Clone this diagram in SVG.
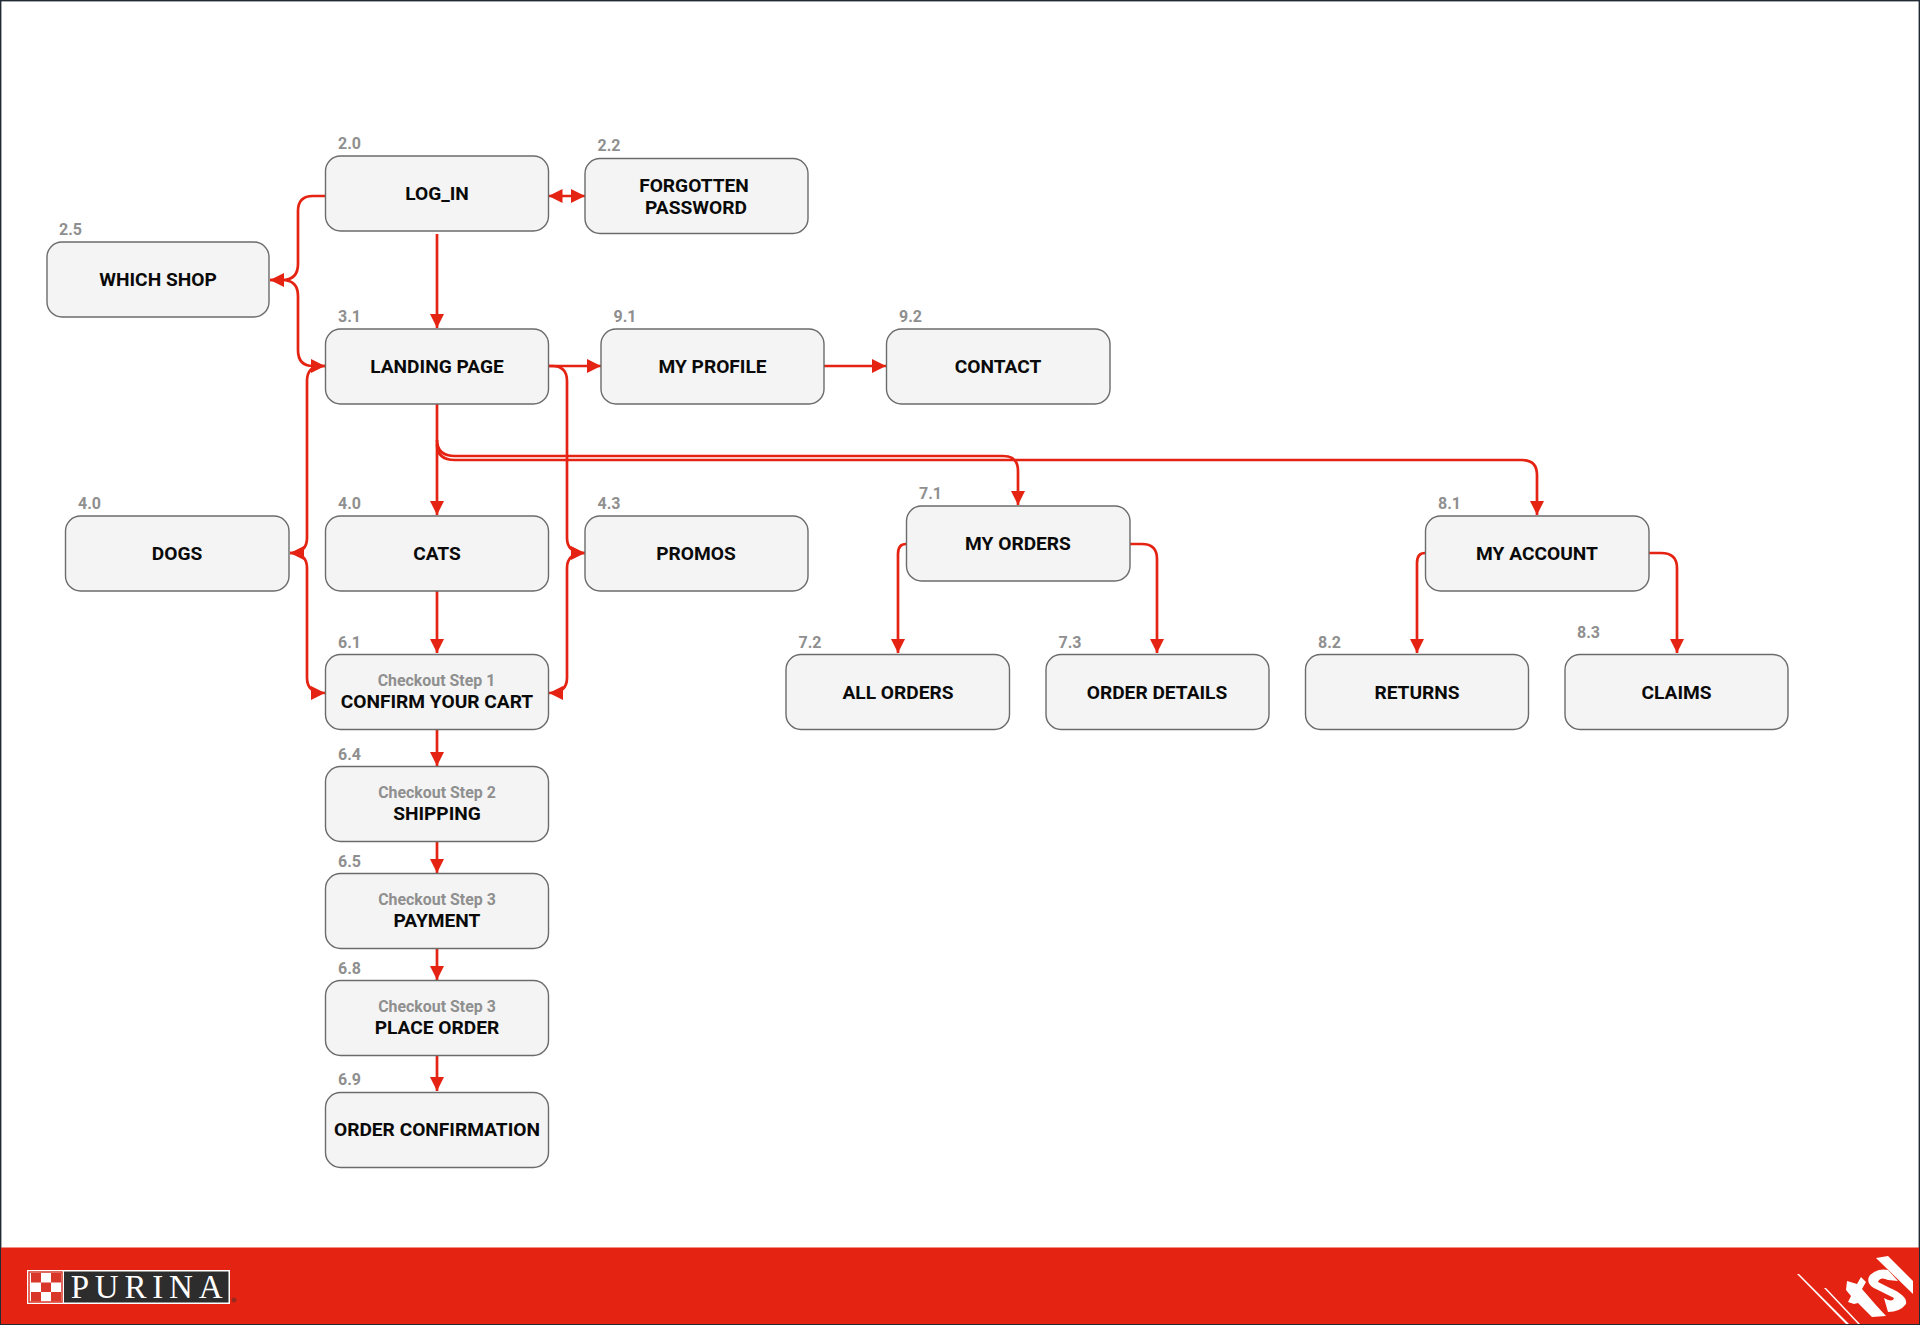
<svg xmlns="http://www.w3.org/2000/svg" width="1920" height="1325" viewBox="0 0 1920 1325">
<style>
.b{fill:#f4f4f4;stroke:#6b6b6b;stroke-width:1.4}
.t{font:700 19.15px Roboto,"Liberation Sans",sans-serif;fill:#0a0a0a;text-anchor:middle}
.s{font:700 15.9px Roboto,"Liberation Sans",sans-serif;fill:#8f8f8f;text-anchor:middle}
.n{font:700 16px Roboto,"Liberation Sans",sans-serif;fill:#8f8f8f}
.c{fill:none;stroke:#e52313;stroke-width:2.7}
.a{fill:#e52313}
</style>
<defs>
<marker id="ah" markerUnits="userSpaceOnUse" markerWidth="15" markerHeight="15" refX="14" refY="7.500" orient="auto-start-reverse"><path d="M0 0.500L14 7.500L0 14.500z" class="a"/></marker>
</defs>
<rect x="0.500" y="0.500" width="1919" height="1324" fill="#fff" stroke="#222b33" stroke-width="1.8"/>
<g id="connectors">
<path class="c" d="M325 196H313Q298 196 298 211V264Q298 280 282 280H270" marker-end="url(#ah)"/>
<path class="c" d="M270 280H282Q298 280 298 296V350Q298 366 313 366H325" marker-end="url(#ah)"/>
<path class="c" d="M548.500 196H585" marker-start="url(#ah)" marker-end="url(#ah)"/>
<path class="c" d="M437 234V328" marker-end="url(#ah)"/>
<path class="c" d="M548 366H601" marker-end="url(#ah)"/>
<path class="c" d="M824 366H886" marker-end="url(#ah)"/>
<path class="c" d="M325 366H322Q307 366 307 381V538Q307 553 290 553" marker-end="url(#ah)"/>
<path class="c" d="M290 553Q307 553 307 568V678Q307 693 325 693" marker-end="url(#ah)"/>
<path class="c" d="M548 366H552Q567 366 567 381V538Q567 553 585 553" marker-end="url(#ah)"/>
<path class="c" d="M585 553Q567 553 567 568V678Q567 693 549 693" marker-end="url(#ah)"/>
<path class="c" d="M437 404V515" marker-end="url(#ah)"/>
<path class="c" d="M437 591V653" marker-end="url(#ah)"/>
<path class="c" d="M437 730V766" marker-end="url(#ah)"/>
<path class="c" d="M437 841V873" marker-end="url(#ah)"/>
<path class="c" d="M437 948V980" marker-end="url(#ah)"/>
<path class="c" d="M437 1055V1091" marker-end="url(#ah)"/>
<path class="c" d="M437 440Q437 456 455 456H1003Q1018 456 1018 471V505" marker-end="url(#ah)"/>
<path class="c" d="M437 444Q437 460 455 460H1522Q1537 460 1537 475V515" marker-end="url(#ah)"/>
<path class="c" d="M906 544Q898 544 898 554V653" marker-end="url(#ah)"/>
<path class="c" d="M1130 544H1142Q1157 544 1157 559V653" marker-end="url(#ah)"/>
<path class="c" d="M1425 553Q1417 553 1417 563V653" marker-end="url(#ah)"/>
<path class="c" d="M1649 553H1661Q1677 553 1677 568V653" marker-end="url(#ah)"/>
</g>
<g id="n20"><rect class="b" x="325.500" y="156" width="223" height="75" rx="15"/><text class="n" x="338" y="148.700">2.0</text><text class="t" x="437" y="200">LOG_IN</text></g>
<g id="n22"><rect class="b" x="585" y="158.500" width="223" height="75" rx="15"/><text class="n" x="597.500" y="150.700">2.2</text><text class="t" x="694" y="191.500">FORGOTTEN</text><text class="t" x="696" y="213.500">PASSWORD</text></g>
<g id="n25"><rect class="b" x="47" y="242" width="222" height="75" rx="15"/><text class="n" x="59" y="234.700">2.5</text><text class="t" x="158" y="286">WHICH SHOP</text></g>
<g id="n31"><rect class="b" x="325.500" y="329" width="223" height="75" rx="15"/><text class="n" x="338" y="321.700">3.1</text><text class="t" x="437" y="373">LANDING PAGE</text></g>
<g id="n91"><rect class="b" x="601" y="329" width="223" height="75" rx="15"/><text class="n" x="613.500" y="321.700">9.1</text><text class="t" x="712.500" y="373">MY PROFILE</text></g>
<g id="n92"><rect class="b" x="886.500" y="329" width="223.500" height="75" rx="15"/><text class="n" x="899" y="321.700">9.2</text><text class="t" x="998" y="373">CONTACT</text></g>
<g id="n40d"><rect class="b" x="65.500" y="516" width="223.500" height="75" rx="15"/><text class="n" x="78" y="508.500">4.0</text><text class="t" x="177" y="560">DOGS</text></g>
<g id="n40c"><rect class="b" x="325.500" y="516" width="223" height="75" rx="15"/><text class="n" x="338" y="508.500">4.0</text><text class="t" x="437" y="560">CATS</text></g>
<g id="n43"><rect class="b" x="585" y="516" width="223" height="75" rx="15"/><text class="n" x="597.500" y="508.500">4.3</text><text class="t" x="696" y="560">PROMOS</text></g>
<g id="n71"><rect class="b" x="906.500" y="506" width="223.500" height="75" rx="15"/><text class="n" x="919" y="498.500">7.1</text><text class="t" x="1018" y="550">MY ORDERS</text></g>
<g id="n81"><rect class="b" x="1425.500" y="516" width="223.500" height="75" rx="15"/><text class="n" x="1438" y="508.500">8.1</text><text class="t" x="1537" y="560">MY ACCOUNT</text></g>
<g id="n72"><rect class="b" x="786" y="654.500" width="223.500" height="75" rx="15"/><text class="n" x="798.500" y="647.500">7.2</text><text class="t" x="898" y="699">ALL ORDERS</text></g>
<g id="n73"><rect class="b" x="1046" y="654.500" width="223" height="75" rx="15"/><text class="n" x="1058.500" y="647.500">7.3</text><text class="t" x="1157" y="699">ORDER DETAILS</text></g>
<g id="n82"><rect class="b" x="1305.500" y="654.500" width="223" height="75" rx="15"/><text class="n" x="1318" y="647.500">8.2</text><text class="t" x="1417" y="699">RETURNS</text></g>
<g id="n83"><rect class="b" x="1565" y="654.500" width="223" height="75" rx="15"/><text class="n" x="1577" y="637.500">8.3</text><text class="t" x="1676.500" y="699">CLAIMS</text></g>
<g id="n61"><rect class="b" x="325.500" y="654.500" width="223" height="75" rx="15"/><text class="n" x="338" y="647.500">6.1</text><text class="s" x="436.500" y="686.300">Checkout Step 1</text><text class="t" x="437" y="708">CONFIRM YOUR CART</text></g>
<g id="n64"><rect class="b" x="325.500" y="766.500" width="223" height="75" rx="15"/><text class="n" x="338" y="759.500">6.4</text><text class="s" x="437" y="798.300">Checkout Step 2</text><text class="t" x="437" y="820">SHIPPING</text></g>
<g id="n65"><rect class="b" x="325.500" y="873.500" width="223" height="75" rx="15"/><text class="n" x="338" y="866.500">6.5</text><text class="s" x="437" y="905.300">Checkout Step 3</text><text class="t" x="437" y="927">PAYMENT</text></g>
<g id="n68"><rect class="b" x="325.500" y="980.500" width="223" height="75" rx="15"/><text class="n" x="338" y="973.500">6.8</text><text class="s" x="437" y="1012.300">Checkout Step 3</text><text class="t" x="437" y="1034">PLACE ORDER</text></g>
<g id="n69"><rect class="b" x="325.500" y="1092.500" width="223" height="75" rx="15"/><text class="n" x="338" y="1085">6.9</text><text class="t" x="437" y="1136">ORDER CONFIRMATION</text></g>
<rect x="1" y="1247.500" width="1918" height="76.500" fill="#e52313"/>
<g id="purina-logo">
<rect x="27" y="1270" width="203" height="34" fill="#fff"/>
<rect x="64" y="1271.500" width="164.500" height="31" fill="#2d2d2d"/>
<rect x="29" y="1272" width="33" height="30" fill="#fff" stroke="#d9372a" stroke-width="1.500"/>
<g fill="#d9372a"><rect x="31" y="1273" width="10" height="9.500"/><rect x="51" y="1273" width="10" height="9.500"/><rect x="41" y="1282.500" width="10" height="9.500"/><rect x="31" y="1292" width="10" height="9.500"/><rect x="51" y="1292" width="10" height="9.500"/></g>
<text x="149.500" y="1298" text-anchor="middle" font-family="Liberation Serif,serif" font-size="33" letter-spacing="5.800" fill="#fff">PURINA</text>
<circle cx="234" cy="1300" r="2.500" fill="#9a2a20"/>
</g>
<g id="tsl-logo" fill="#fff">
<path d="M1797 1274L1799 1274L1849 1324L1846 1324Z"/>
<path d="M1824 1288L1826 1288L1860 1324L1858 1324Z"/>
<path d="M1876 1258L1888 1256L1913 1281L1913 1294Z"/>
<path d="M1847 1281L1857 1284L1861 1277L1866 1282L1862 1289L1875 1304L1886 1316L1872 1317L1858 1303L1854 1304L1848 1302L1851 1296L1846 1290Z"/>
<path d="M1870 1275Q1878 1268 1888 1270L1898 1281L1888 1280Q1880 1276 1878 1282L1890 1288Q1908 1296 1906 1304Q1900 1312 1888 1312L1884 1298Q1893 1303 1894 1298L1878 1290Q1864 1284 1870 1275Z"/>
</g>
</svg>
